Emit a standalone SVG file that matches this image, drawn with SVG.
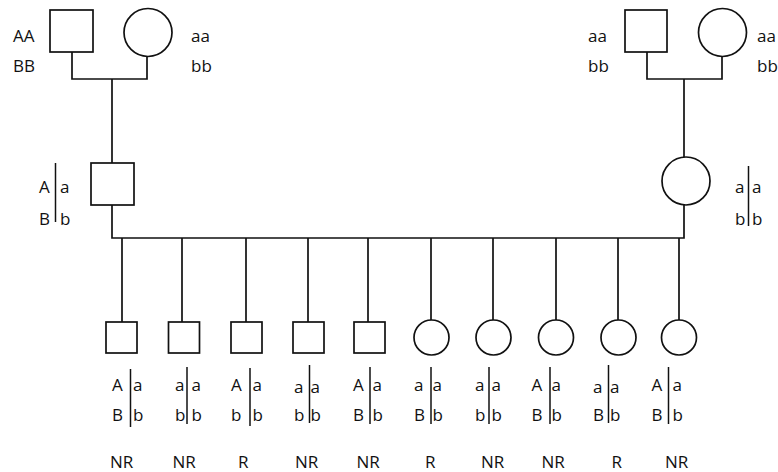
<svg xmlns="http://www.w3.org/2000/svg" width="778" height="472" viewBox="0 0 778 472">
<style>
.s{fill:#fff;stroke:#111;stroke-width:1.7}
.l{fill:none;stroke:#111;stroke-width:1.7}
.b{stroke:#111;stroke-width:1.5}
text{font-family:"Open Sans","DejaVu Sans",sans-serif;font-size:17px;fill:#111}
</style>
<rect width="778" height="472" fill="#fff"/>
<g id="connectors">
<path class="l" d="M72,52V79H147V56M112,79V163"/>
<path class="l" d="M647,52V79H722V56M684,79V157"/>
<path class="l" d="M112,205V238H684V205"/>
<path class="l" d="M122,238V322M182,238V322M246,238V322M308,238V322M368,238V322M431,238V320M493,238V320M556,238V320M618,238V320M679,238V320"/>
</g>
<g id="p1"><rect class="s" x="50" y="10" width="43" height="42"/><text x="13" y="42">AA</text><text x="13" y="72">BB</text></g>
<g id="p2"><circle class="s" cx="148" cy="32.5" r="24"/><text x="191" y="42">aa</text><text x="191" y="72">bb</text></g>
<g id="p3"><rect class="s" x="625" y="10" width="42" height="42"/><text x="588" y="42">aa</text><text x="588" y="72">bb</text></g>
<g id="p4"><circle class="s" cx="722.5" cy="32.5" r="24"/><text x="757" y="42">aa</text><text x="757" y="72">bb</text></g>
<g id="f1"><rect class="s" x="91" y="163" width="43" height="42"/><text x="39" y="193">A</text><text x="60" y="193">a</text><text x="39" y="225">B</text><text x="60" y="225">b</text><line class="b" x1="55.5" y1="163" x2="55.5" y2="222"/></g>
<g id="m1"><circle class="s" cx="686" cy="181" r="24"/><text x="735" y="193">a</text><text x="752" y="193">a</text><text x="735" y="225">b</text><text x="752" y="225">b</text><line class="b" x1="748.5" y1="166" x2="748.5" y2="226"/></g>
<g id="c1"><rect class="s" x="106" y="322" width="31" height="31"/><text x="112" y="391">A</text><text x="133" y="391">a</text><text x="112" y="421">B</text><text x="133" y="421">b</text><line class="b" x1="130.5" y1="369" x2="130.5" y2="427"/><text x="110" y="468">NR</text></g>
<g id="c2"><rect class="s" x="168.5" y="322" width="31" height="31"/><text x="175" y="391">a</text><text x="191.5" y="391">a</text><text x="175" y="421">b</text><text x="191.5" y="421">b</text><line class="b" x1="187" y1="367" x2="187" y2="424"/><text x="172.5" y="468">NR</text></g>
<g id="c3"><rect class="s" x="231" y="322" width="31" height="31"/><text x="231" y="391">A</text><text x="252.5" y="391">a</text><text x="231" y="421">b</text><text x="252.5" y="421">b</text><line class="b" x1="250" y1="368" x2="250" y2="426"/><text x="238" y="468">R</text></g>
<g id="c4"><rect class="s" x="293" y="322" width="31" height="31"/><text x="294" y="393">a</text><text x="310.5" y="393">a</text><text x="294" y="421">b</text><text x="310.5" y="421">b</text><line class="b" x1="309.5" y1="365" x2="309.5" y2="423"/><text x="295" y="468">NR</text></g>
<g id="c5"><rect class="s" x="354" y="322" width="31" height="31"/><text x="353" y="391">A</text><text x="372.5" y="391">a</text><text x="353" y="421">B</text><text x="372.5" y="421">b</text><line class="b" x1="370" y1="367" x2="370" y2="424"/><text x="356.5" y="468">NR</text></g>
<g id="c6"><circle class="s" cx="431.5" cy="337.5" r="17.5"/><text x="414" y="391">a</text><text x="432.5" y="391">a</text><text x="414" y="421">B</text><text x="432.5" y="421">b</text><line class="b" x1="431" y1="367" x2="431" y2="424"/><text x="425" y="468">R</text></g>
<g id="c7"><circle class="s" cx="493.5" cy="337.5" r="17.5"/><text x="475" y="391">a</text><text x="491.5" y="391">a</text><text x="475" y="421">b</text><text x="491.5" y="421">b</text><line class="b" x1="489" y1="367" x2="489" y2="424"/><text x="481" y="468">NR</text></g>
<g id="c8"><circle class="s" cx="556" cy="337.5" r="17.5"/><text x="531.5" y="391">A</text><text x="551.5" y="391">a</text><text x="531.5" y="421">B</text><text x="551.5" y="421">b</text><line class="b" x1="550" y1="367" x2="550" y2="424"/><text x="541.5" y="468">NR</text></g>
<g id="c9"><circle class="s" cx="618.5" cy="337.5" r="17.5"/><text x="593" y="393">a</text><text x="610" y="393">a</text><text x="593" y="421">B</text><text x="610" y="421">b</text><line class="b" x1="608.5" y1="365" x2="608.5" y2="423"/><text x="611.5" y="468">R</text></g>
<g id="c10"><circle class="s" cx="679" cy="337.5" r="17.5"/><text x="651.5" y="391">A</text><text x="672.5" y="391">a</text><text x="651.5" y="421">B</text><text x="672.5" y="421">b</text><line class="b" x1="668.5" y1="367" x2="668.5" y2="424"/><text x="665" y="468">NR</text></g>
</svg>
